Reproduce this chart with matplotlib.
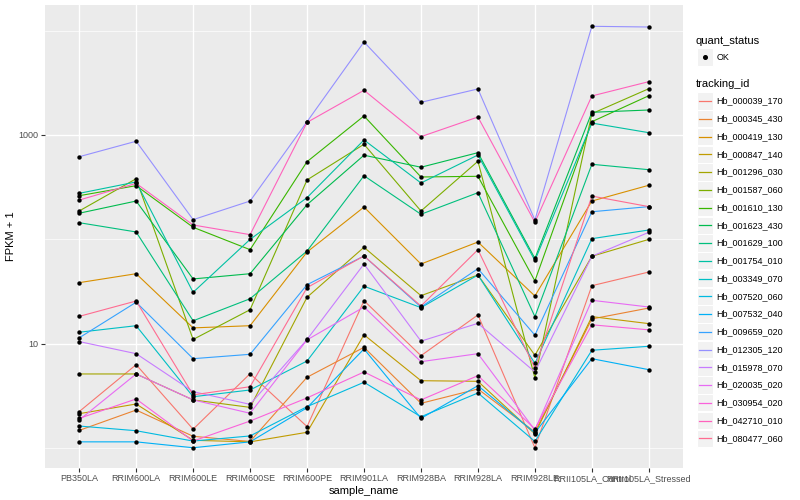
import matplotlib
matplotlib.use("Agg")
import matplotlib.pyplot as plt
from matplotlib.lines import Line2D
from matplotlib.patches import Rectangle
from matplotlib.ticker import FixedLocator, NullFormatter

plt.rcParams['font.family'] = ['Liberation Sans', 'DejaVu Sans']

samples = ["PB350LA", "RRIM600LA", "RRIM600LE", "RRIM600SE", "RRIM600PE", "RRIM901LA",
           "RRIM928BA", "RRIM928LA", "RRIM928LE", "RRII105LA_Control", "RRII105LA_Stressed"]

# FPKM + 1 per tracking id, one value per sample
hb_000039_170 = [2.24, 6.31, 1.52, 5.17, 1.61, 25.9, 7.69, 18.9, 1.01, 36.0, 48.7]
hb_000345_430 = [1.48, 2.32, 1.30, 1.16, 4.78, 9.25, 2.69, 3.69, 1.43, 17.3, 22.0]
hb_000419_130 = [38.5, 46.9, 14.2, 14.9, 75.7, 204, 58.1, 94.4, 28.7, 233, 330]
hb_000847_140 = [2.14, 2.65, 1.19, 1.15, 1.42, 12.2, 4.43, 4.37, 1.37, 18.2, 15.6]
hb_001296_030 = [5.14, 5.14, 2.90, 2.46, 27.9, 84.0, 28.9, 45.6, 7.76, 68.9, 100]
hb_001587_060 = [187, 381, 11.0, 21.2, 371, 815, 187, 560, 4.70, 1600, 2776]
hb_001610_130 = [262, 327, 130.6, 79.7, 555, 1521, 396, 402, 40.0, 1340, 2378]
hb_001623_430 = [178, 233, 41.8, 46.9, 215, 640, 491, 677, 65.6, 1650, 1735]
hb_001629_100 = [144.5, 117.8, 16.6, 27.0, 77.4, 407, 174, 280, 18.2, 524, 465]
hb_001754_010 = [276, 355, 31.1, 100, 251, 896, 347, 643, 62.8, 1300, 1052]
hb_003349_070 = [12.9, 14.9, 3.11, 3.61, 6.84, 35.6, 22.2, 45.6, 6.50, 101.6, 123]
hb_007520_060 = [1.63, 1.47, 1.17, 1.31, 2.50, 4.28, 2.00, 3.38, 1.16, 8.67, 9.46]
hb_007532_040 = [1.15, 1.15, 1.01, 1.15, 2.44, 8.92, 1.93, 3.97, 1.40, 7.20, 5.65]
hb_009659_020 = [11.4, 25.0, 7.20, 7.93, 36.8, 69.3, 22.5, 52.4, 12.1, 184, 206]
hb_012305_120 = [619, 871, 154.5, 233, 1340, 7780, 2056, 2760, 153.5, 10990, 10820]
hb_015978_070 = [10.5, 8.04, 3.48, 2.63, 11.0, 58.1, 10.6, 15.7, 5.37, 68.9, 117]
hb_020035_020 = [1.86, 5.14, 2.90, 2.16, 10.9, 22.5, 6.74, 8.04, 1.49, 26.1, 22.5]
hb_030954_020 = [1.93, 2.96, 1.17, 1.82, 3.03, 5.37, 2.90, 4.95, 1.53, 15.2, 13.6]
hb_042710_010 = [238, 344, 137.4, 111, 1320, 2680, 964, 1486, 145.8, 2365, 3243]
hb_080477_060 = [18.3, 25.7, 3.24, 3.88, 34.5, 69.3, 23.0, 79.7, 5.86, 260, 206]

tracking_ids = ["Hb_000039_170", "Hb_000345_430", "Hb_000419_130", "Hb_000847_140",
                "Hb_001296_030", "Hb_001587_060", "Hb_001610_130", "Hb_001623_430",
                "Hb_001629_100", "Hb_001754_010", "Hb_003349_070", "Hb_007520_060",
                "Hb_007532_040", "Hb_009659_020", "Hb_012305_120", "Hb_015978_070",
                "Hb_020035_020", "Hb_030954_020", "Hb_042710_010", "Hb_080477_060"]
series = [hb_000039_170, hb_000345_430, hb_000419_130, hb_000847_140, hb_001296_030,
          hb_001587_060, hb_001610_130, hb_001623_430, hb_001629_100, hb_001754_010,
          hb_003349_070, hb_007520_060, hb_007532_040, hb_009659_020, hb_012305_120,
          hb_015978_070, hb_020035_020, hb_030954_020, hb_042710_010, hb_080477_060]

# ggplot hue palette, 20 levels
colors = ["#F8766D", "#EA8331", "#D89000", "#C09B00", "#A3A500", "#7CAE00", "#39B600",
          "#00BB4E", "#00BF7D", "#00C1A3", "#00BFC4", "#00BAE0", "#00B0F6", "#35A2FF",
          "#9590FF", "#C77CFF", "#E76BF3", "#FA62DB", "#FF62BC", "#FF6C91"]

W, H = 800, 500
fig = plt.figure(figsize=(8, 5), dpi=100)
ax = fig.add_axes([45 / W, 32 / H, 638 / W, 463 / H])
ax.set_facecolor('#EBEBEB')
for s in ax.spines.values():
    s.set_visible(False)

x = list(range(len(samples)))
for vals, c in zip(series, colors):
    ax.plot(x, vals, color=c, linewidth=0.8, zorder=2)
for vals in series:
    ax.scatter(x, vals, s=10, color='black', zorder=3, linewidths=0)

ax.set_yscale('log')
ax.set_ylim(0.646, 17580)
ax.set_xlim(-0.6, 10.6)
ax.yaxis.set_major_locator(FixedLocator([10, 1000]))
ax.set_yticklabels(['10', '1000'])
ax.yaxis.set_minor_locator(FixedLocator([1, 100, 10000]))
ax.yaxis.set_minor_formatter(NullFormatter())
ax.set_xticks(x)
ax.set_xticklabels(samples)
ax.tick_params(which='major', length=3, width=0.8, color='#333333', labelcolor='#4D4D4D',
               labelsize=6.5, pad=1.5)
ax.tick_params(which='minor', length=0)
ax.grid(which='major', color='white', linewidth=1.0)
ax.grid(which='minor', axis='y', color='white', linewidth=0.5)
ax.set_axisbelow(True)
ax.set_xlabel('sample_name', fontsize=8, labelpad=2)
ax.set_ylabel('FPKM + 1', fontsize=8, labelpad=2)


def fx(px):
    return px / W


def fy(py):
    return 1 - py / H


# legends drawn by hand, ggplot style
fig.text(fx(696), fy(41), 'quant_status', fontsize=8, va='center')
fig.add_artist(Rectangle((fx(697.3), fy(57 + 8.6)), 15.4 / W, 17.3 / H, facecolor='#F2F2F2',
                         edgecolor='white', linewidth=0.8, transform=fig.transFigure))
fig.add_artist(Line2D([fx(705)], [fy(57)], marker='o', markersize=2.6, color='black',
                      linestyle='none', transform=fig.transFigure))
fig.text(fx(716.5), fy(57), 'OK', fontsize=6.5, va='center')

fig.text(fx(696), fy(84), 'tracking_id', fontsize=8, va='center')
for i, (tid, c) in enumerate(zip(tracking_ids, colors)):
    yc = 101 + 17.75 * i
    fig.add_artist(Rectangle((fx(697.3), fy(yc + 8.6)), 15.4 / W, 17.3 / H, facecolor='#F2F2F2',
                             edgecolor='white', linewidth=0.8, transform=fig.transFigure))
    fig.add_artist(Line2D([fx(699), fx(711)], [fy(yc), fy(yc)], color=c, linewidth=0.9,
                          transform=fig.transFigure))
    fig.text(fx(716.5), fy(yc), tid, fontsize=6.5, va='center')

plt.savefig('out.png', dpi=100)
